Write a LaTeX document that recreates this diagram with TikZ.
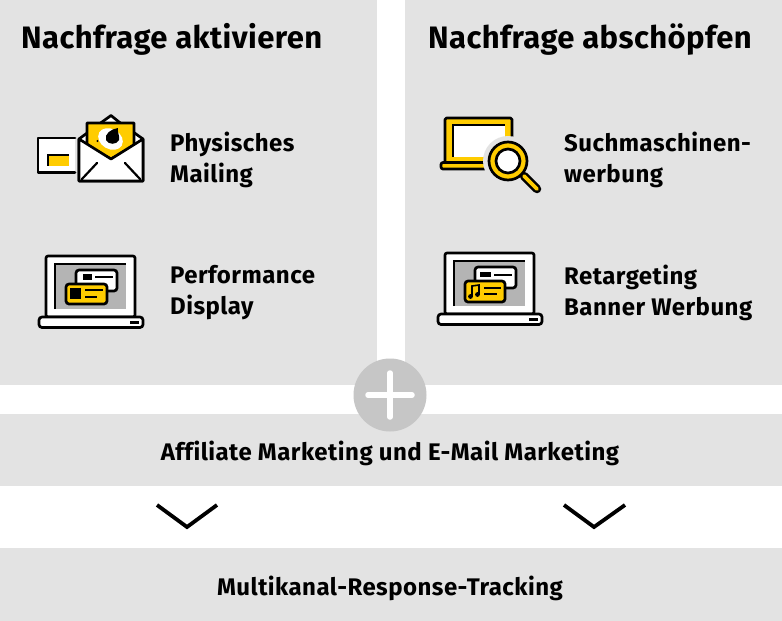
\documentclass[tikz,border=0pt]{standalone}
\usepackage{fontspec}
\setmainfont{Fira Sans}
\newfontfamily\headf[LetterSpace=1.4,Ligatures=NoCommon]{Fira Sans}
\newfontfamily\labf[LetterSpace=2.0,Ligatures=NoCommon]{Fira Sans}
\definecolor{panel}{HTML}{E3E3E3}
\definecolor{plusc}{HTML}{C6C6C6}
\definecolor{scr}{HTML}{B4B4B4}
\definecolor{gelb}{HTML}{FFCC00}
\tikzset{
 panelbox/.style={fill=panel,draw=none},
 ic/.style={draw=black,line width=2.7pt,line join=round,line cap=round},
 thin ic/.style={draw=black,line width=2pt,line cap=butt},
 head/.style={font=\headf\fontsize{31}{34}\selectfont\bfseries,anchor=base west,inner sep=0},
 lab/.style={font=\labf\fontsize{24}{31}\selectfont\bfseries,anchor=west,align=left,inner sep=0},
 band/.style={font=\labf\fontsize{24}{28}\selectfont\bfseries,anchor=base,inner sep=0},
 chev/.style={draw=black,line width=3.8pt,line join=miter}
}
\newcommand{\laptop}[2]{%
 \begin{scope}[shift={(#1,#2)}]
  \draw[ic,fill=white,rounded corners=2pt] (0,0) rectangle (89,61);
  \fill[scr] (9,8) rectangle (80,53);
  \draw[thin ic] (9,53) -- (9,8) -- (80,8);
  \draw[ic,fill=white,rounded corners=3pt] (-7,61) rectangle (97,71.5);
  \draw[draw=black,line width=2.6pt] (84,66.5) -- (93,66.5);
  \draw[ic,fill=white,rounded corners=3pt] (30,14) rectangle (71,35);
 \end{scope}}
\begin{document}
\begin{tikzpicture}[x=1pt,y=-1pt]
\useasboundingbox (0,0) rectangle (782,621);
\fill[white] (0,0) rectangle (782,621);
\fill[panelbox] (0,0) rectangle (377,385);
\fill[panelbox] (405,0) rectangle (782,385);
\fill[panelbox] (0,414) rectangle (782,486);
\fill[panelbox] (0,548) rectangle (782,621);
\node[circle,fill=plusc,minimum size=73pt,inner sep=0] (plus) at (390,395) {};
\draw[white,line width=5.5pt,line cap=round] (plus.center)+(-22,0) -- +(22,0);
\draw[white,line width=5.5pt,line cap=round] (plus.center)+(0,-22) -- +(0,22);

\node[head] (h1) at (21,48) {Nachfrage aktivieren};
\node[head] (h2) at (428,48) {Nachfrage abschöpfen};
\node[lab] (l1) at (170,160) {Physisches\\Mailing};
\node[lab] (l2) at (170,293) {Performance\\Display};
\node[lab] (l3) at (564,160) {Suchmaschinen-\\werbung};
\node[lab] (l4) at (564,293) {Retargeting\\Banner Werbung};
\node[band] (b1) at (390,460.5) {Affiliate Marketing und E-Mail Marketing};
\node[band] (b2) at (390,595.5) {Multikanal-Response-Tracking};

% chevrons
\draw[chev] (157,505) -- (187,527) -- (217,505);
\draw[chev] (564,505) -- (594,527) -- (625,505);

% mail icon
\draw[ic,fill=white] (75,138) -- (38,138) -- (38,172.5) -- (75,172.5);
\fill[gelb] (49,155) rectangle (69,166);
\draw[thin ic] (69,155) -- (48,155) -- (48,166);
\draw[ic,fill=white] (79,139) -- (102,122) -- (111,115.5) -- (119,122) -- (143,139) -- (143,181) -- (79,181) -- cycle;
\draw[ic,fill=gelb] (87,146) -- (87,123) -- (134,123) -- (134,146) -- (111,159) -- cycle;
\draw[ic,fill=white] (79,139) -- (111,159) -- (143,139) -- (143,181) -- (79,181) -- cycle;
\draw[draw=black,line width=2.2pt,line cap=round] (82,179) -- (97,163);
\draw[draw=black,line width=2.2pt,line cap=round] (140,179) -- (125,163);
\fill[white,rotate around={-30:(110.5,139)}] (110.5,139) ellipse (13 and 10);
\fill[black] (118,128) .. controls (117,132) and (120,136) .. (119,140) .. controls (117,145) and (108,145) .. (106,140) .. controls (104,134) and (111,129) .. (118,128) -- cycle;
\fill[black] (97.5,141) circle (1.2);

% laptop with cards
\laptop{46}{256}
\draw[ic,fill=gelb,rounded corners=3pt] (66,284) rectangle (107,304);
\fill[black] (70,288) rectangle (81,299);
\draw[thin ic] (85,290) -- (103,290);
\draw[thin ic] (85,296.5) -- (97,296.5);
\fill[black] (83,274) rectangle (92,280);
\draw[thin ic] (95,277) -- (113,277);

% search icon
\draw[ic,fill=gelb,rounded corners=1.5pt] (445,118) rectangle (512,163);
\fill[white] (454,125) rectangle (505,157);
\draw[thin ic] (453,157) -- (453,124.5) -- (505,124.5);
\draw[ic,fill=gelb,rounded corners=2pt] (441,162.5) rectangle (490,169);
\fill[panel] (508,161) circle (25);
\draw[draw=black,line width=8.5pt,line cap=round] (524,176) -- (537,189);
\draw[draw=gelb,line width=3.6pt,line cap=round] (524,176) -- (537,189);
\draw[ic,fill=gelb] (508,161) circle (19);
\draw[ic,fill=white] (508,161) circle (12);

% laptop with music card
\laptop{445}{253}
\draw[ic,fill=gelb,rounded corners=3pt] (465,281) rectangle (505,302);
\fill[black] (480,272) rectangle (491,277);
\draw[thin ic] (494,274.5) -- (512,274.5);
\draw[thin ic] (484,288) -- (501,288);
\draw[thin ic] (484,294) -- (497,294);
\draw[draw=black,line width=1.6pt] (472,296) -- (472,286) -- (479,285) -- (479,294);
\fill[black] (470.5,296.5) circle (2.4);
\fill[black] (477.5,294.5) circle (2.4);
\end{tikzpicture}
\end{document}
